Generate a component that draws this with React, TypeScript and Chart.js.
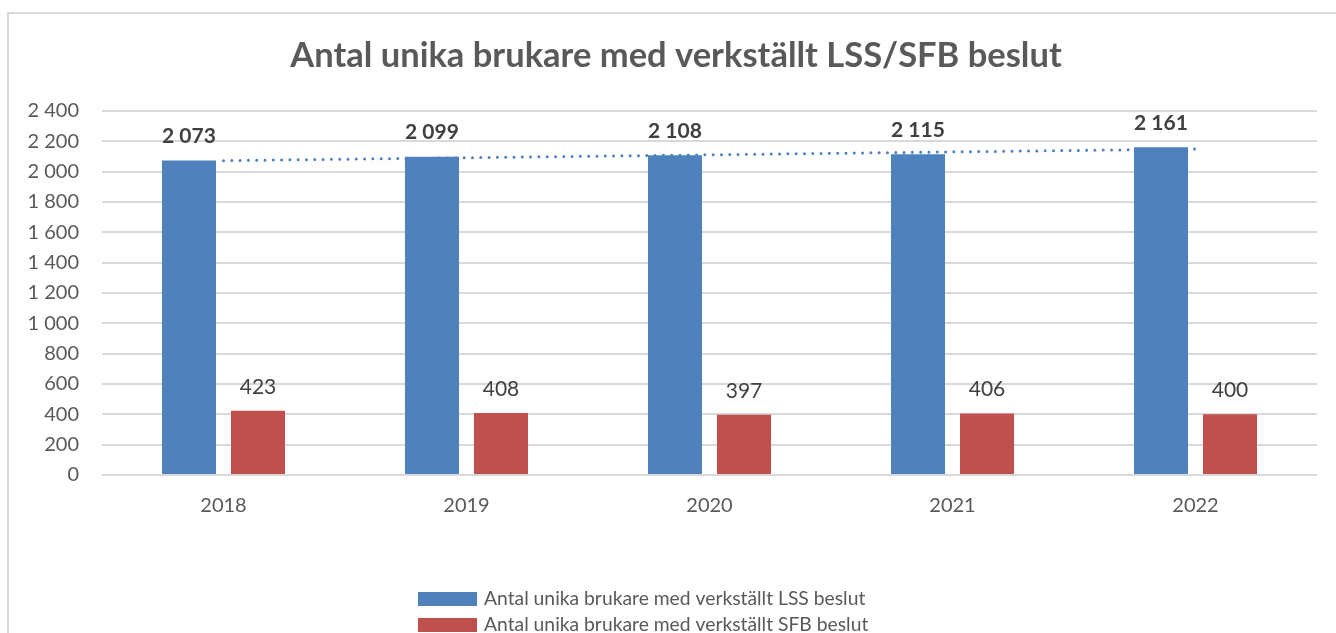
import React, { useEffect, useRef } from "react";
import { Chart, registerables } from "chart.js";

Chart.register(...registerables);

const categories = ["2018", "2019", "2020", "2021", "2022"];
const lssValues = [2073, 2099, 2108, 2115, 2161];
const sfbValues = [423, 408, 397, 406, 400];
const seriesLabels = [
  "Antal unika brukare med verkställt LSS beslut",
  "Antal unika brukare med verkställt SFB beslut",
];
const titleText = "Antal unika brukare med verkställt LSS/SFB beslut";
const yMin = 0;
const yMax = 2400;
const yStep = 200;

const BLUE = "#4F81BD";
const RED = "#C0504D";
const TEXT = "#595959";
const LABEL = "#404040";
const FONT = "Lato, 'Open Sans', sans-serif";

// Linear (least-squares) trendline of the LSS series, as Excel draws it
function linearTrend(values: number[]): number[] {
  const n = values.length;
  const xs = values.map((_, i) => i);
  const mx = xs.reduce((a, b) => a + b, 0) / n;
  const my = values.reduce((a, b) => a + b, 0) / n;
  let num = 0;
  let den = 0;
  xs.forEach((x, i) => {
    num += (x - mx) * (values[i] - my);
    den += (x - mx) * (x - mx);
  });
  const slope = num / den;
  return xs.map((x) => my + slope * (x - mx));
}

const fmt = (v: number) =>
  Math.round(v)
    .toString()
    .replace(/\B(?=(\d{3})+(?!\d))/g, " ");

const titlePlugin = {
  id: "customTitle",
  afterDraw(chart: any) {
    const ctx = chart.ctx;
    ctx.save();
    ctx.font = `bold 34.5px ${FONT}`;
    ctx.fillStyle = TEXT;
    ctx.textAlign = "center";
    ctx.textBaseline = "alphabetic";
    ctx.fillText(titleText, 676, 67);
    ctx.restore();
  },
};

const dataLabelPlugin = {
  id: "dataLabels",
  afterDatasetsDraw(chart: any) {
    const ctx = chart.ctx;
    chart.data.datasets.forEach((ds: any, di: number) => {
      if (ds.type === "line") return;
      const meta = chart.getDatasetMeta(di);
      meta.data.forEach((el: any, i: number) => {
        ctx.save();
        ctx.font = `${ds.labelBold ? "bold " : ""}21px ${FONT}`;
        ctx.fillStyle = LABEL;
        ctx.textAlign = "center";
        ctx.textBaseline = "middle";
        ctx.fillText(fmt(ds.data[i]), el.x, el.y - 24);
        ctx.restore();
      });
    });
  },
};

const legendPlugin = {
  id: "customLegend",
  afterDraw(chart: any) {
    const ctx = chart.ctx;
    const bars = chart.data.datasets.filter((d: any) => d.type !== "line");
    const left = 418;
    const firstCenter = 599;
    const rowStep = 26;
    bars.forEach((ds: any, i: number) => {
      const cy = firstCenter + i * rowStep;
      ctx.save();
      ctx.fillStyle = ds.backgroundColor;
      ctx.fillRect(left, cy - 7, 59, 14);
      ctx.font = `19.3px ${FONT}`;
      ctx.fillStyle = TEXT;
      ctx.textAlign = "left";
      ctx.textBaseline = "middle";
      ctx.fillText(ds.label, left + 66, cy);
      ctx.restore();
    });
  },
};

export default function App() {
  const ref = useRef<HTMLCanvasElement | null>(null);

  useEffect(() => {
    if (!ref.current) return;
    const chart = new Chart(ref.current, {
      type: "bar",
      data: {
        labels: categories,
        datasets: [
          {
            type: "line",
            label: "Linjär trend",
            data: linearTrend(lssValues),
            borderColor: BLUE,
            borderWidth: 3,
            borderDash: [0, 8.3],
            borderCapStyle: "round",
            pointRadius: 0,
            fill: false,
            order: 0,
          } as any,
          {
            type: "bar",
            label: seriesLabels[0],
            data: lssValues,
            backgroundColor: BLUE,
            categoryPercentage: 0.568,
            barPercentage: 0.783,
            order: 1,
            labelBold: true,
          } as any,
          {
            type: "bar",
            label: seriesLabels[1],
            data: sfbValues,
            backgroundColor: RED,
            categoryPercentage: 0.568,
            barPercentage: 0.783,
            order: 1,
            labelBold: false,
          } as any,
        ],
      },
      options: {
        responsive: false,
        animation: false,
        layout: { padding: { left: 0, right: 19, top: 111, bottom: 118 } },
        plugins: {
          legend: { display: false },
          tooltip: { enabled: false },
          title: { display: false },
        },
        scales: {
          x: {
            grid: { display: false, drawTicks: false },
            border: { display: false },
            ticks: {
              color: TEXT,
              font: { family: FONT, size: 20 },
              padding: 19,
            },
            afterFit: (scale: any) => {
              scale.height = 40;
            },
          },
          y: {
            min: yMin,
            max: yMax,
            grid: { color: "#d9d9d9", lineWidth: 2, drawTicks: false },
            border: { display: false },
            ticks: {
              stepSize: yStep,
              color: TEXT,
              font: { family: FONT, size: 20 },
              padding: 23,
              callback: (v: any) => fmt(Number(v)),
            },
            afterFit: (scale: any) => {
              scale.width = 102;
            },
          },
        },
      } as any,
      plugins: [dataLabelPlugin, legendPlugin, titlePlugin],
    });
    return () => chart.destroy();
  }, []);

  return (
    <div
      style={{
        position: "fixed",
        left: 0,
        top: 0,
        width: 1336,
        height: 633,
        overflow: "hidden",
        background: "#fff",
      }}
    >
      <div
        style={{
          position: "absolute",
          left: 7,
          top: 12,
          width: 1400,
          height: 700,
          border: "2px solid #d9d9d9",
          boxSizing: "border-box",
        }}
      />
      <canvas
        ref={ref}
        width={1336}
        height={633}
        style={{ position: "absolute", left: 0, top: 0, width: 1336, height: 633 }}
      />
    </div>
  );
}
